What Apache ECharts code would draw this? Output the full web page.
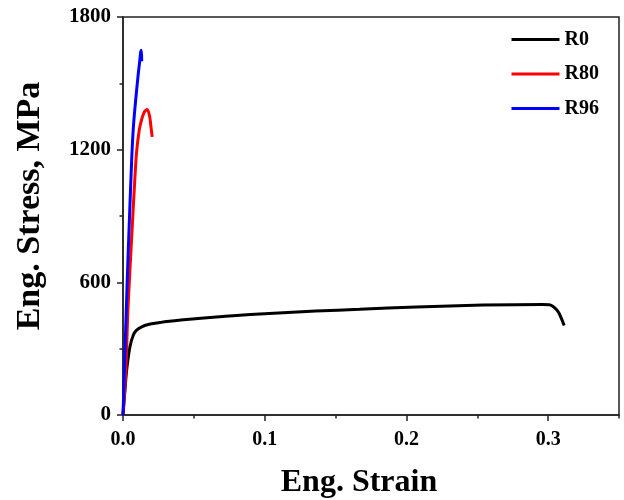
<!DOCTYPE html>
<html>
<head>
<meta charset="utf-8">
<script src="https://cdn.jsdelivr.net/npm/echarts@6/dist/echarts.min.js"></script>
<style>
  html, body { margin: 0; padding: 0; background: #fff; }
  #chart { width: 624px; height: 500px; }
</style>
</head>
<body>
<div id="chart"></div>
<script>
// ---- data ----
const seriesNames = ['R0', 'R80', 'R96'];

const r0Strain = [0, 0.0006, 0.0014, 0.0026, 0.0049, 0.0073, 0.0096, 0.0132, 0.0178, 0.026, 0.031, 0.0425, 0.055, 0.09, 0.136, 0.167, 0.207, 0.254, 0.296, 0.3007, 0.303, 0.3055, 0.3077, 0.3113];
const r0Stress = [0, 50, 113, 204, 309, 362, 384, 399, 409, 418, 423, 431, 438, 454, 470, 478, 489, 497, 500, 499, 493, 479, 460, 405];

const r80Strain = [0, 0.002, 0.0035, 0.0066, 0.0082, 0.0096, 0.0115, 0.0131, 0.015, 0.0171, 0.0188, 0.0198, 0.0206];
const r80Stress = [0, 200, 480, 860, 1050, 1190, 1290, 1335, 1370, 1382, 1350, 1300, 1258];

const r96Strain = [0, 0.003, 0.0045, 0.0061, 0.0072, 0.0085, 0.0108, 0.0118, 0.0125, 0.0130, 0.0132];
const r96Stress = [0, 611, 880, 1150, 1290, 1394, 1545, 1600, 1643, 1650, 1600];

const xLabels = ['0.0', '0.1', '0.2', '0.3'];
const yLabels = ['0', '600', '1200', '1800'];

const colors = ['#000000', '#ff0000', '#0000ff'];

function pairs(xs, ys) { return xs.map((x, i) => [x, ys[i]]); }

const FONT = 'Liberation Serif, Times New Roman, serif';
const axisColor = '#222';

const chart = echarts.init(document.getElementById('chart'), null, { renderer: 'canvas' });

const option = {
  backgroundColor: '#fff',
  animation: false,
  grid: {
    left: 123, right: 5, top: 17, bottom: 85,
    outerBoundsMode: 'none', containLabel: false,
    show: true, borderColor: axisColor, borderWidth: 1.5, backgroundColor: 'transparent'
  },
  legend: {
    orient: 'vertical',
    left: 510, top: 29.5, padding: 0,
    itemWidth: 48, itemHeight: 14, itemGap: 14.5,
    data: seriesNames,
    itemStyle: { opacity: 0 },
    lineStyle: { width: 3 },
    textStyle: { fontFamily: FONT, fontWeight: 'bold', fontSize: 20, color: '#000' }
  },
  xAxis: [
    {
      type: 'value', min: 0, max: 0.35, interval: 0.1,
      name: 'Eng. Strain', nameLocation: 'middle', nameGap: 52,
      nameTextStyle: { fontFamily: FONT, fontWeight: 'bold', fontSize: 32, color: '#000', padding: [0, 24, 0, 0] },
      axisLine: { show: true, lineStyle: { color: axisColor, width: 1.5 } },
      axisTick: { show: true, inside: false, length: 6, lineStyle: { color: axisColor, width: 1.5 } },
      axisLabel: {
        fontFamily: FONT, fontWeight: 'bold', fontSize: 20, color: '#000', margin: 15,
        showMaxLabel: false,
        formatter: function (v) { const i = Math.round(v / 0.1); return (Math.abs(v - i * 0.1) < 1e-9 && i < xLabels.length) ? xLabels[i] : ''; }
      },
      splitLine: { show: false }
    },
    {
      type: 'value', min: 0, max: 0.35, interval: 0.05, position: 'bottom',
      axisLine: { show: false },
      axisTick: { show: true, inside: false, length: 3.5, lineStyle: { color: axisColor, width: 1.5 } },
      axisLabel: { show: false },
      splitLine: { show: false }
    }
  ],
  yAxis: {
    type: 'value', min: 0, max: 1800, interval: 600,
    name: 'Eng. Stress, MPa', nameLocation: 'middle', nameGap: 76,
    nameTextStyle: { fontFamily: FONT, fontWeight: 'bold', fontSize: 34, color: '#000', padding: [0, 0, 0, 20] },
    axisLine: { show: true, lineStyle: { color: axisColor, width: 1.5 } },
    axisTick: { show: true, inside: false, length: 6, lineStyle: { color: axisColor, width: 1.5 } },
    minorTick: { show: true, splitNumber: 2, length: 3.5, lineStyle: { color: axisColor, width: 1.5 } },
    axisLabel: {
      fontFamily: FONT, fontWeight: 'bold', fontSize: 21, color: '#000', margin: 12,
      formatter: function (v) { const i = Math.round(v / 600); return yLabels[i] !== undefined ? yLabels[i] : ''; }
    },
    splitLine: { show: false }
  },
  series: [
    { name: seriesNames[0], type: 'line', xAxisIndex: 0, data: pairs(r0Strain, r0Stress), symbol: 'none', smooth: 0.3, lineStyle: { color: colors[0], width: 3 }, itemStyle: { color: colors[0] } },
    { name: seriesNames[1], type: 'line', xAxisIndex: 0, data: pairs(r80Strain, r80Stress), symbol: 'none', smooth: 0.3, lineStyle: { color: colors[1], width: 3 }, itemStyle: { color: colors[1] } },
    { name: seriesNames[2], type: 'line', xAxisIndex: 0, data: pairs(r96Strain, r96Stress), symbol: 'none', smooth: 0.3, lineStyle: { color: colors[2], width: 3 }, itemStyle: { color: colors[2] } }
  ]
};

chart.setOption(option);
</script>
</body>
</html>
